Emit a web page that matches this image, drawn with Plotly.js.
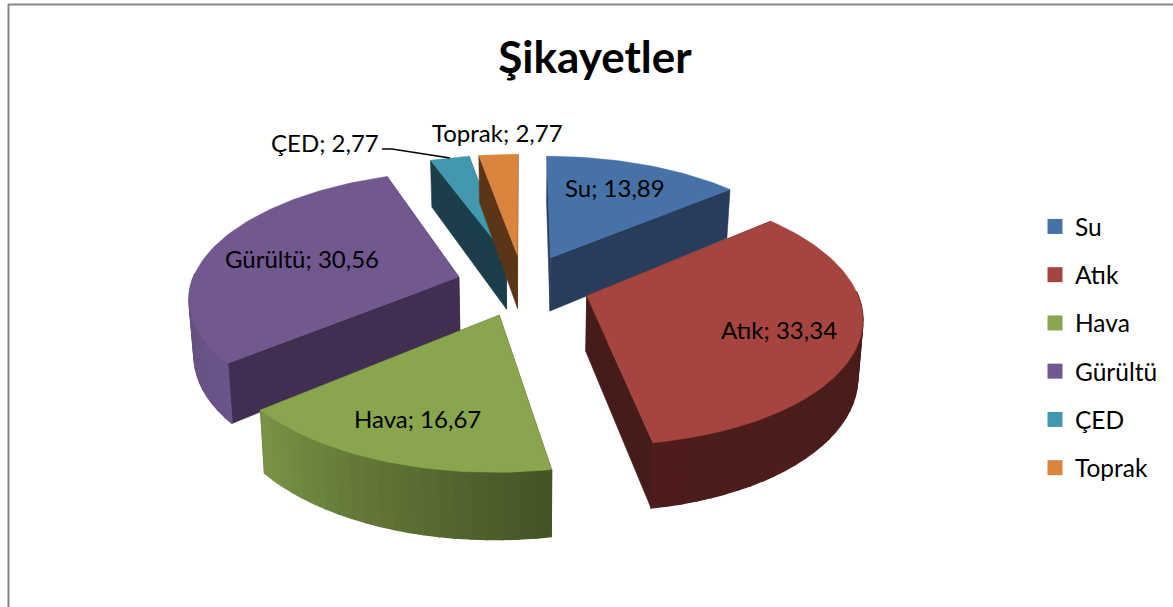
<!DOCTYPE html>
<html><head><meta charset="utf-8">
<script src="https://cdn.plot.ly/plotly-3.0.1.min.js"></script>
<style>html,body{margin:0;padding:0;background:#fff;overflow:hidden}</style>
</head><body><div id="chart" style="width:1173px;height:607px"></div>
<script>
const categories = ['Su','Atık','Hava','Gürültü','ÇED','Toprak'];
const values = [13.89,33.34,16.67,30.56,2.77,2.77];
const topColors = ['#4672a8','#a64440','#89a54e','#71588f','#4198af','#db843d'];
const wallColors = ['#283c5c','#451c19','#445224','#402f50','#1b3e4a','#5a3617'];
const rimStart = ['#283c5c','#451c19','#445224','#6b5489','#1b3e4a','#5a3617'];
const rimEnd = ['#283c5c','#4e1d1b','#7a9447','#5a4674','#1b3e4a','#5a3617'];
const drawOrder = [4,5,0,3,1,2];
const labelPos = [[615,187],[779,329],[417,418],[302,258],[325,142],[497,132]];

// projection of the exploded pie onto the page
const cx=523, cy=285, A=268, B=124, P=0.148, EXPL=0.25, DEPTH=55, BOTTOM=0.985;
const rad=d=>d*Math.PI/180;
function project(X,Y,low){
  const f=1/(1+P*Y);
  const x=A*X*f, y=-B*Y*f;
  return low ? [cx+x*BOTTOM, cy+y+DEPTH*f] : [cx+x, cy+y];
}
function hex(c){return [1,3,5].map(i=>parseInt(c.substr(i,2),16));}
function mix(a,b,t){const p=hex(a),q=hex(b);return 'rgb('+p.map((v,i)=>Math.round(v+(q[i]-v)*t)).join(',')+')';}
function poly(pts,color,lw){
  return {type:'scatter',mode:'lines',x:pts.map(p=>p[0]).concat(pts[0][0]),y:pts.map(p=>p[1]).concat(pts[0][1]),
    fill:'toself',fillcolor:color,line:{color:color,width:lw},showlegend:false,hoverinfo:'skip'};
}
const total=values.reduce((a,b)=>a+b,0);
const ranges=[];let acc=0;
values.forEach(v=>{const s=acc/total*360;acc+=v;ranges.push([s,acc/total*360]);});

const traces=categories.map((c,i)=>({type:'scatter',mode:'markers',x:[null],y:[null],name:c,legendgroup:c,
  marker:{symbol:'square',size:15,color:topColors[i]},hoverinfo:'skip'}));

drawOrder.forEach(i=>{
  const [a,b]=ranges[i], mid=(a+b)/2;
  const ox=EXPL*Math.sin(rad(mid)), oy=EXPL*Math.cos(rad(mid));
  const rim=t=>[ox+Math.sin(rad(t)),oy+Math.cos(rad(t))];
  const wall=(p,q,col,lw)=>poly([project(p[0],p[1]),project(q[0],q[1]),project(q[0],q[1],true),project(p[0],p[1],true)],col,lw);
  traces.push(wall([ox,oy],rim(a),wallColors[i],0.6));
  traces.push(wall([ox,oy],rim(b),wallColors[i],0.6));
  const step=3, n=Math.max(1,Math.ceil((b-a)/step));
  for(let k=0;k<n;k++){
    const t0=a+(b-a)*k/n,t1=a+(b-a)*(k+1)/n;
    if(Math.cos(rad((t0+t1)/2))>0.05) continue; // back of the rim is hidden
    traces.push(wall(rim(t0),rim(t1),mix(rimStart[i],rimEnd[i],(k+.5)/n),1.4));
  }
  const top=[project(ox,oy)];
  for(let k=0;k<=n*2;k++){const r=rim(a+(b-a)*k/(n*2));top.push(project(r[0],r[1]));}
  traces.push(poly(top,topColors[i],0.5));
});

const fmt=v=>v.toFixed(2).replace('.',',');
const annotations=categories.map((c,i)=>({x:labelPos[i][0],y:labelPos[i][1],xref:'x',yref:'y',text:c+'; '+fmt(values[i]),
  showarrow:false,xanchor:'center',yanchor:'middle',font:{family:'Lato, sans-serif',size:24,color:'#000'}}));

const layout={
  width:1173,height:607,margin:{l:0,r:0,t:0,b:0},paper_bgcolor:'#fff',plot_bgcolor:'#fff',
  title:{text:'<b>Şikayetler</b>',x:595/1173,xanchor:'center',y:1-58/607,yanchor:'middle',xref:'paper',yref:'paper',
    font:{family:'Lato, sans-serif',size:44,color:'#000'}},
  xaxis:{range:[0,1173],visible:false,fixedrange:true},
  yaxis:{range:[607,0],visible:false,fixedrange:true},
  legend:{x:1035/1173,xanchor:'left',y:1-204/607,yanchor:'top',tracegroupgap:13.4,bgcolor:'rgba(0,0,0,0)',
    font:{family:'Lato, sans-serif',size:24.5,color:'#000'},itemclick:false,itemdoubleclick:false},
  showlegend:true,
  annotations:annotations,
  shapes:[
    {type:'line',xref:'x',yref:'y',x0:8.5,x1:8.5,y0:4,y1:607,line:{color:'#868686',width:2}},
    {type:'line',xref:'x',yref:'y',x0:8,x1:1173,y0:4.5,y1:4.5,line:{color:'#868686',width:2}},
    {type:'path',xref:'x',yref:'y',path:'M382,149 L392,149 L450,158',line:{color:'#000',width:1.5}}
  ]
};
Plotly.newPlot('chart',traces,layout,{displayModeBar:false});
</script></body></html>
